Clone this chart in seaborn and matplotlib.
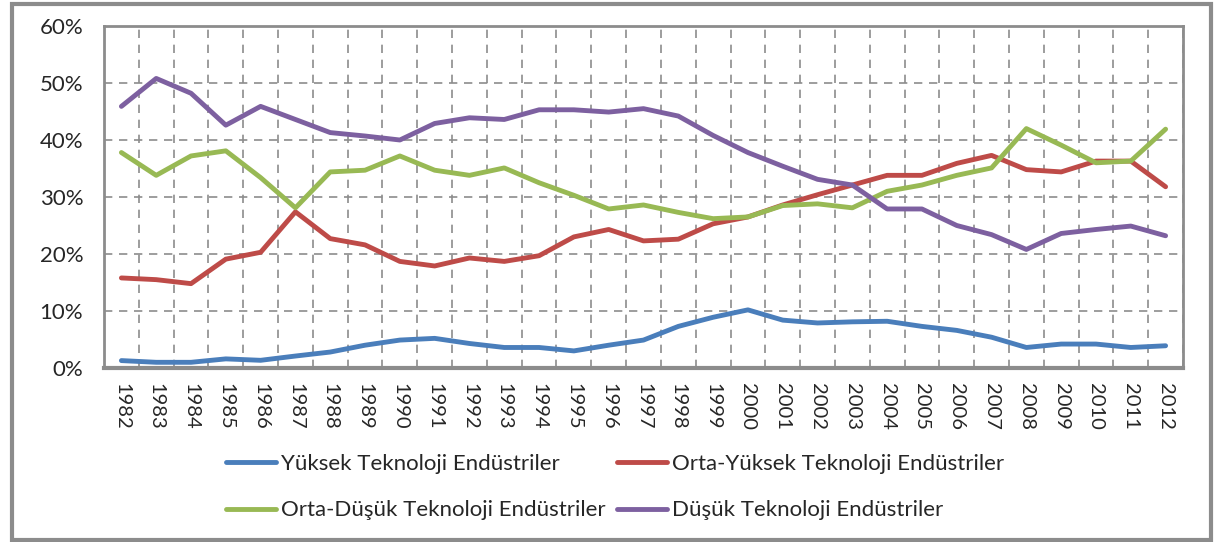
import matplotlib.pyplot as plt
import numpy as np
import pandas as pd
import seaborn as sns
from matplotlib.lines import Line2D
from matplotlib.patches import Rectangle
from matplotlib.ticker import FixedLocator, PercentFormatter

years = list(range(1982, 2013))

yuksek = [1.3, 1.0, 1.0, 1.6, 1.35, 2.1, 2.8, 4.0, 4.9, 5.2, 4.3,
          3.6, 3.6, 3.0, 4.0, 4.9, 7.3, 8.9, 10.2, 8.4, 7.9,
          8.1, 8.2, 7.3, 6.6, 5.4, 3.6, 4.2, 4.2, 3.6, 3.9]
orta_yuksek = [15.8, 15.5, 14.8, 19.1, 20.3, 27.4, 22.7, 21.6, 18.7, 17.9, 19.3,
               18.7, 19.7, 23.0, 24.3, 22.3, 22.6, 25.3, 26.5, 28.6, 30.4,
               32.1, 33.8, 33.8, 35.9, 37.3, 34.8, 34.4, 36.3, 36.3, 31.8]
orta_dusuk = [37.8, 33.8, 37.2, 38.1, 33.4, 28.1, 34.4, 34.7, 37.2, 34.7, 33.8,
              35.1, 32.5, 30.3, 27.9, 28.6, 27.3, 26.2, 26.5, 28.5, 28.8,
              28.1, 31.0, 32.1, 33.8, 35.1, 42.0, 39.1, 36.0, 36.3, 41.9]
dusuk = [45.9, 50.8, 48.2, 42.6, 45.9, 43.6, 41.3, 40.7, 40.0, 42.9, 43.9,
         43.6, 45.3, 45.3, 44.9, 45.5, 44.2, 40.8, 37.8, 35.4, 33.1,
         32.1, 27.9, 27.9, 25.0, 23.4, 20.8, 23.6, 24.3, 24.9, 23.2]

series_names = ["Yüksek Teknoloji Endüstriler", "Orta-Yüksek Teknoloji Endüstriler",
                "Orta-Düşük Teknoloji Endüstriler", "Düşük Teknoloji Endüstriler"]
colors = ["#4a7ebb", "#be4b48", "#98b954", "#7d60a0"]

df = pd.concat([
    pd.DataFrame({"year": years, "value": vals, "series": name})
    for name, vals in zip(series_names, [yuksek, orta_yuksek, orta_dusuk, dusuk])
])

sns.set_style("white")
plt.rcParams["font.family"] = ["Lato", "DejaVu Sans"]

fig = plt.figure(figsize=(12.14, 5.42), dpi=100)
ax = fig.add_axes([104 / 1214, 1 - 368 / 542, 1079 / 1214, 342 / 542])

sns.lineplot(data=df, x="year", y="value", hue="series", palette=colors,
             linewidth=3.5, ax=ax, legend=False)

grid_c = "#8c8c8c"
ax.set_xlim(1981.5, 2012.5)
ax.set_ylim(0, 60)
ax.set_xticks(years)
ax.set_xticklabels([str(y) for y in years], rotation=-90, fontsize=14.5)
ax.xaxis.set_minor_locator(FixedLocator(np.arange(1981.5, 2013, 1)))
ax.tick_params(axis="x", which="major", length=0, pad=11)
ax.tick_params(axis="x", which="minor", length=5, width=1.2, color=grid_c, direction="out")
ax.set_yticks(range(0, 61, 10))
ax.yaxis.set_major_formatter(PercentFormatter(decimals=0))
ax.tick_params(axis="y", length=5, width=1.2, color=grid_c, direction="out",
               labelsize=16, pad=10)
ax.grid(False)
ax.grid(axis="x", which="minor", color=grid_c, linestyle=(0, (5, 4)), linewidth=1.2)
ax.grid(axis="y", which="major", color=grid_c, linestyle=(0, (5, 4)), linewidth=1.2)
ax.set_xlabel("")
ax.set_ylabel("")
for side in ["top", "right", "left"]:
    ax.spines[side].set_color(grid_c)
    ax.spines[side].set_linewidth(2)
ax.spines["bottom"].set_color(grid_c)
ax.spines["bottom"].set_linewidth(3)

order = [0, 2, 1, 3]
handles = [Line2D([], [], color=colors[i], linewidth=3.5) for i in order]
fig.legend(handles, [series_names[i] for i in order], ncol=2,
           loc="center", bbox_to_anchor=(615 / 1214, 1 - 487 / 542), frameon=False,
           fontsize=16, handlelength=2.25, handletextpad=0.25, labelspacing=1.2,
           columnspacing=0.5)

fig.patches.append(Rectangle((12 / 1214, 2 / 542), 1199 / 1214, 536 / 542,
                             transform=fig.transFigure, fill=False,
                             edgecolor="#8c8c8c", linewidth=3))

fig.savefig("out.png", dpi=100)
